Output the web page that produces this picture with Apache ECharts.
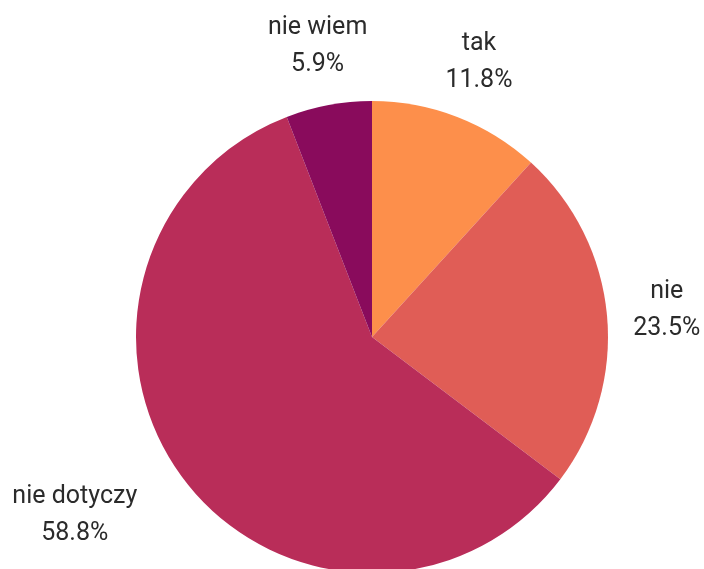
<!DOCTYPE html>
<html>
<head>
<meta charset="utf-8">
<script src="https://cdn.jsdelivr.net/npm/echarts@6/dist/echarts.min.js"></script>
<style>
  html, body { margin: 0; padding: 0; background: #fff; }
  #chart { width: 704px; height: 569px; }
</style>
</head>
<body>
<div id="chart"></div>
<script>
// odpowiedzi (liczba osób)
var categories = ['tak', 'nie', 'nie dotyczy', 'nie wiem'];
var counts = [2, 4, 10, 1];
var colors = ['#fd8f4b', '#e05d56', '#b92d59', '#890b5c'];
// przesunięcia etykiet względem pozycji domyślnej
var labelShift = [[0, 1], [0, 1], [-61, 0], [0, 0]];

var myChart = echarts.init(document.getElementById('chart'));

var sliceData = categories.map(function (name, i) {
    return { name: name, value: counts[i], itemStyle: { color: colors[i] } };
});
var labelData = categories.map(function (name, i) {
    return { name: name, value: counts[i] };
});

var option = {
    animation: false,
    series: [{
        // wykres kołowy
        type: 'pie',
        center: [372, 337],
        radius: [0, 236],
        startAngle: 90,
        clockwise: true,
        silent: true,
        label: { show: false },
        labelLine: { show: false },
        itemStyle: { borderWidth: 0 },
        data: sliceData
    }, {
        // niewidoczny pierścień niosący etykiety
        type: 'pie',
        center: [372, 337],
        radius: [236, 350],
        startAngle: 90,
        clockwise: true,
        silent: true,
        percentPrecision: 1,
        itemStyle: { color: 'rgba(0,0,0,0)', borderWidth: 0 },
        label: {
            show: true,
            position: 'inside',
            formatter: '{b}\n{d}%',
            fontFamily: 'Roboto',
            fontSize: 25,
            lineHeight: 37,
            color: '#2b2b2b',
            align: 'center'
        },
        labelLine: { show: false },
        labelLayout: function (params) {
            var s = labelShift[params.dataIndex];
            return { dx: s[0], dy: s[1] };
        },
        data: labelData
    }]
};
myChart.setOption(option);
</script>
</body>
</html>
